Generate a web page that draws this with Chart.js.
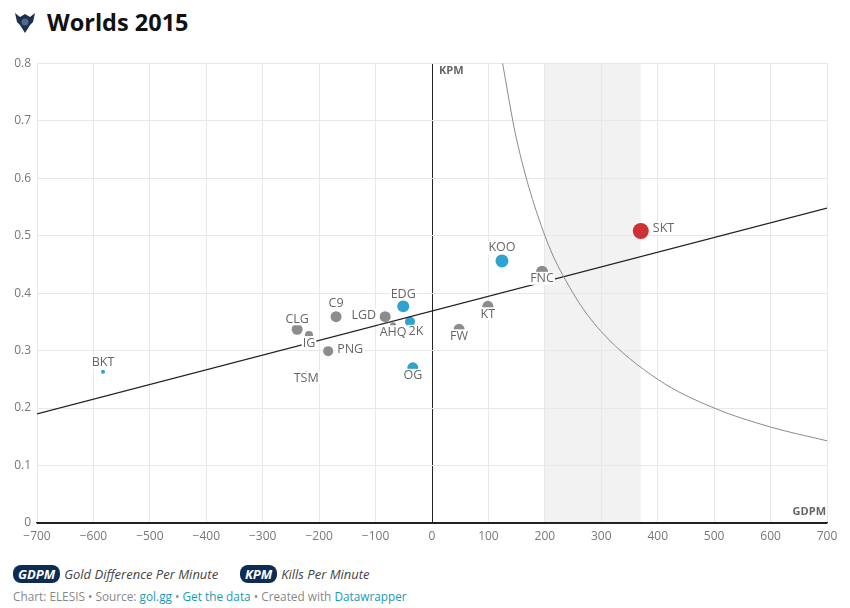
<!DOCTYPE html>
<html>
<head>
<meta charset="utf-8">
<script src="https://cdn.jsdelivr.net/npm/chart.js@4.4.1/dist/chart.umd.min.js"></script>
<style>
  body { margin: 0; background: #fff; font-family: "Open Sans", sans-serif; }
  #wrap { position: relative; width: 850px; height: 608px; }
  #title { position: absolute; left: 47px; top: 6px; font-size: 23.5px; font-weight: bold; color: #111; }
  #logo { position: absolute; left: 13px; top: 11px; }
  #chartBox { position: absolute; left: 0; top: 50px; width: 850px; height: 500px; }
  .legend { position: absolute; top: 565px; left: 13px; font-size: 13px; font-style: italic; color: #444; }
  .badge { display: inline-block; background: #0b2d55; color: #fff; font-weight: bold; border-radius: 8px; padding: 0 5px; line-height: 18px; margin-right: 4px; }
  .credits { position: absolute; top: 588px; left: 13px; font-size: 11.8px; color: #888; }
  .credits a { color: #1c9ab4; text-decoration: none; }
</style>
</head>
<body>
<div id="wrap">
  <svg id="logo" width="24" height="24" viewBox="0 0 24 24">
    <path d="M2 2 L7 6 L12 3 L17 6 L22 2 L20 11 L17 14 L12 22 L7 14 L4 11 Z" fill="#1d2f4a"/>
    <circle cx="12" cy="11" r="3.5" fill="#4a6d92"/>
  </svg>
  <div id="title">Worlds 2015</div>
  <div id="chartBox"><canvas id="chart" width="850" height="500"></canvas></div>
  <div class="legend">
    <span class="badge">GDPM</span>Gold Difference Per Minute
    <span style="display:inline-block;width:15px"></span>
    <span class="badge">KPM</span>Kills Per Minute
  </div>
  <div class="credits">Chart: ELESIS &bull; Source: <a>gol.gg</a> &bull; <a>Get the data</a> &bull; Created with <a>Datawrapper</a></div>
</div>
<script>
// ================= DATA =================
const teams = ["SKT", "KOO", "FNC", "KT", "FW", "EDG", "LGD", "AHQ", "2K", "OG", "C9", "CLG", "IG", "PNG", "TSM", "BKT"];
const gdpm  = [370, 124, 195, 99, 48, -51, -83, -69, -39, -34, -170, -239, -218, -184, -223, -583];
const kpm   = [0.508, 0.456, 0.437, 0.377, 0.337, 0.377, 0.359, 0.344, 0.350, 0.270, 0.359, 0.337, 0.327, 0.299, 0.262, 0.263];

// trend line end points
const trendX = [-700, 700];
const trendY = [0.19, 0.548];

// curve
const curveX = [125, 150, 200, 250, 300, 400, 500, 600, 700];
const curveY = [0.8, 0.667, 0.5, 0.4, 0.333, 0.25, 0.2, 0.167, 0.143];

// shaded band on x
const bandX = [200, 370];

// ================= STYLES =================
const GRAY = "#8c8c8c", BLUE = "#2ea3cf", RED = "#d03034";
const teamColor = {SKT: RED, KOO: BLUE, EDG: BLUE, "2K": BLUE, OG: BLUE, BKT: BLUE};
const teamRadius = {SKT: 8, KOO: 6.5, FNC: 6, KT: 5.5, FW: 5.5, EDG: 6, LGD: 5.5, AHQ: 3, "2K": 5, OG: 5.5,
                    C9: 5.5, CLG: 5.5, IG: 4, PNG: 5, TSM: 1.5, BKT: 2};
// label offset from point [dx, dy, align]
const labelSpot = {
    SKT: [12, -4, "left"], KOO: [0, -14, "center"], FNC: [0, 6, "center"], KT: [0, 7, "center"],
    FW: [0, 6, "center"], EDG: [0, -13, "center"], LGD: [-9, -2, "right"], AHQ: [0, 6, "center"],
    "2K": [6, 9, "center"], OG: [0, 7, "center"], C9: [0, -14, "center"], CLG: [0, -11, "center"],
    IG: [0, 7, "center"], PNG: [9, -3, "left"], TSM: [0, 5, "center"], BKT: [0, -10, "center"]
};

const FONT = "'Open Sans', sans-serif";

// ================= PLUGINS =================
const bandPlugin = {
    id: "band",
    beforeDraw(chart){
        const {ctx, chartArea, scales} = chart;
        const x1 = scales.x.getPixelForValue(bandX[0]);
        const x2 = scales.x.getPixelForValue(bandX[1]);
        ctx.save();
        ctx.fillStyle = "#f2f2f2";
        ctx.fillRect(x1, chartArea.top, x2 - x1, chartArea.bottom - chartArea.top);
        ctx.restore();
    }
};

const labelPlugin = {
    id: "labels",
    afterDatasetsDraw(chart){
        const ctx = chart.ctx;
        const meta = chart.getDatasetMeta(2);
        ctx.save();
        ctx.font = "12.5px " + FONT;
        ctx.textBaseline = "middle";
        teams.forEach((t, i) => {
            const p = meta.data[i];
            const s = labelSpot[t];
            const w = ctx.measureText(t).width;
            let cx = p.x + s[0];
            if (s[2] === "left") cx += w / 2;
            if (s[2] === "right") cx -= w / 2;
            const cy = p.y + s[1];
            ctx.fillStyle = "#fff";
            ctx.fillRect(cx - w / 2 - 1, cy - 6, w + 2, 13);
            ctx.fillStyle = "#666";
            ctx.textAlign = "center";
            ctx.fillText(t, cx, cy + 1);
        });

        // axis names
        const {chartArea, scales} = chart;
        ctx.font = "bold 11px " + FONT;
        ctx.fillStyle = "#666";
        ctx.textAlign = "left";
        ctx.fillText("KPM", scales.x.getPixelForValue(0) + 7, chartArea.top + 8);
        ctx.textAlign = "right";
        ctx.fillText("GDPM", chartArea.right - 1, chartArea.bottom - 11);
        ctx.restore();
    }
};

// ================= CHART =================
const ctx = document.getElementById("chart").getContext("2d");

new Chart(ctx, {
    type: "scatter",
    data: {
        datasets: [
            {
                type: "line",
                data: curveX.map((x, i) => ({x: x, y: curveY[i]})),
                borderColor: "#8a8a8a",
                borderWidth: 1,
                pointRadius: 0,
                cubicInterpolationMode: "monotone",
                fill: false
            },
            {
                type: "line",
                data: trendX.map((x, i) => ({x: x, y: trendY[i]})),
                borderColor: "#222",
                borderWidth: 1.2,
                pointRadius: 0,
                fill: false
            },
            {
                data: gdpm.map((x, i) => ({x: x, y: kpm[i]})),
                pointBackgroundColor: teams.map(t => teamColor[t] || GRAY),
                pointBorderWidth: 0,
                pointRadius: teams.map(t => teamRadius[t])
            }
        ]
    },
    options: {
        responsive: false,
        animation: false,
        layout: { padding: { top: 10, right: 23 } },
        plugins: {
            legend: { display: false },
            tooltip: { enabled: false }
        },
        scales: {
            x: {
                type: "linear",
                min: -700,
                max: 700,
                afterFit: s => { s.height = 27; },
                ticks: {
                    stepSize: 100,
                    padding: 6,
                    color: "#777",
                    font: { size: 12, family: FONT },
                    callback: v => (v < 0 ? "\u2212" + Math.abs(v) : String(v))
                },
                grid: {
                    drawTicks: false,
                    color: c => (c.tick && c.tick.value === 0 ? "#222" : "#e8e8e8"),
                    lineWidth: 1
                },
                border: { display: true, color: "#222", width: 1.2 }
            },
            y: {
                min: 0,
                max: 0.8,
                afterFit: s => { s.width = 37; },
                ticks: {
                    stepSize: 0.1,
                    padding: 6,
                    color: "#777",
                    font: { size: 12, family: FONT },
                    callback: v => (v === 0 ? "0" : v.toFixed(1))
                },
                grid: {
                    drawTicks: false,
                    color: c => (c.tick && c.tick.value === 0 ? "#222" : "#e8e8e8")
                },
                border: { display: false }
            }
        }
    },
    plugins: [bandPlugin, labelPlugin]
});
</script>
</body>
</html>
